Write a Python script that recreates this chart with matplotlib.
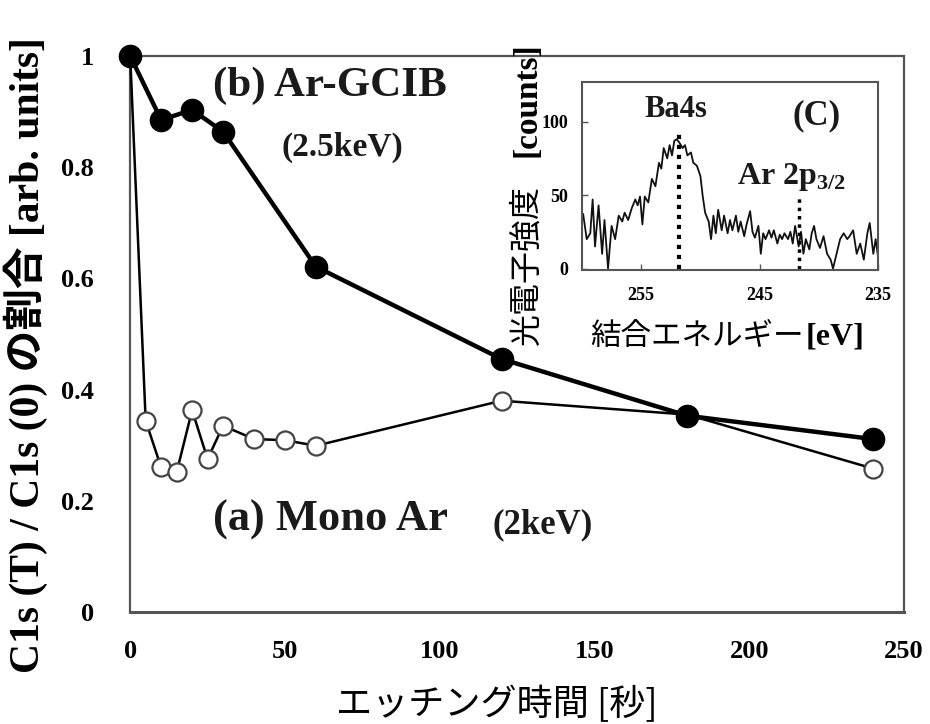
import matplotlib
matplotlib.use("Agg")
import matplotlib.pyplot as plt

plt.rcParams['mathtext.fontset'] = 'custom'
plt.rcParams['mathtext.rm'] = 'Liberation Serif'
plt.rcParams['mathtext.bf'] = 'Liberation Serif:bold'

SERIF = ['Liberation Serif', 'Noto Sans CJK JP']
JP = ['Noto Sans CJK JP', 'Liberation Serif']

# main data: etching time [s] vs C1s(T)/C1s(0)
t_gcib = [0, 10, 20, 30, 60, 120, 180, 240]
r_gcib = [1.0, 0.885, 0.903, 0.864, 0.621, 0.455, 0.353, 0.311]

t_mono = [0, 5, 10, 15, 20, 25, 30, 40, 50, 60, 120, 180, 240]
r_mono = [1.0, 0.344, 0.26, 0.251, 0.363, 0.275, 0.335, 0.311, 0.309, 0.299, 0.38, 0.355, 0.258]

x_ticks = [0, 50, 100, 150, 200, 250]
y_ticks = [0, 0.2, 0.4, 0.6, 0.8, 1.0]
y_tick_labels = ['0', '0.2', '0.4', '0.6', '0.8', '1']

# inset spectrum: binding energy [eV] vs counts
e_spec = [259.9, 259.6, 259.3, 259.1, 258.9, 258.6, 258.3, 258.1, 257.8, 257.5,
          257.2, 256.9, 256.6, 256.4, 256.1, 255.8, 255.5, 255.3, 255.1, 254.9,
          254.7, 254.4, 254.1, 253.8, 253.5, 253.3, 253.1, 252.8, 252.6, 252.4,
          252.2, 252.0, 251.8, 251.5, 251.3, 251.1, 250.8, 250.6, 250.3, 250.0,
          249.8, 249.6, 249.3, 249.1, 248.9, 248.7, 248.5, 248.2, 248.0, 247.7,
          247.5, 247.3, 247.0, 246.8, 246.6, 246.3, 246.1, 245.8, 245.6, 245.4,
          245.1, 244.9, 244.7, 244.5, 244.2, 244.0, 243.8, 243.5, 243.3, 243.1,
          242.9, 242.6, 242.4, 242.2, 242.0, 241.7, 241.5, 241.3, 241.1, 240.8,
          240.6, 240.4, 240.2, 239.9, 239.6, 239.3, 239.0, 238.8, 238.5, 238.2,
          237.9, 237.6, 237.4, 237.1, 236.8, 236.5, 236.2, 235.9, 235.7, 235.4,
          235.2, 235.0]
c_spec = [37, 20, 24, 47, 15, 43, 10, 33, 0, 29,
          20, 36, 32, 38, 33, 41, 47, 43, 49, 30,
          49, 45, 61, 56, 72, 68, 82, 75, 84, 77,
          87, 88, 86, 82, 84, 77, 79, 72, 70, 63,
          49, 38, 32, 20, 36, 24, 40, 26, 36, 24,
          33, 26, 36, 25, 32, 22, 30, 39, 25, 21,
          29, 10, 24, 20, 26, 21, 26, 17, 23, 20,
          24, 20, 25, 17, 29, 15, 25, 10, 20, 13,
          24, 29, 20, 14, 22, 10, 6, 0, 10, 20,
          24, 20, 22, 26, 10, 17, 6, 24, 31, 10,
          20, 8]

ba4s_e, ba4s_top = 251.8, 94
ar2p_e, ar2p_top = 241.7, 51

fig = plt.figure(figsize=(9.3, 7.24), dpi=100)
ax = fig.add_axes([0.140, 0.1547, 0.832, 0.768])

ax.plot(t_mono, r_mono, color='black', lw=1.8, marker='o', ms=13,
        mfc='white', mec='#444444', mew=1.6, clip_on=False, zorder=3)
ax.plot(t_gcib, r_gcib, color='black', lw=3.2, marker='o', ms=16,
        mfc='black', mec='black', clip_on=False, zorder=4)

ax.set_xlim(0, 250)
ax.set_ylim(0, 1)
ax.set_xticks(x_ticks)
ax.set_xticklabels([str(v) for v in x_ticks])
ax.set_yticks(y_ticks)
ax.set_yticklabels(y_tick_labels)
ax.tick_params(length=0, labelsize=19, pad=20)
ax.tick_params(axis='y', pad=26)
for lab in ax.get_xticklabels() + ax.get_yticklabels():
    lab.set_family(SERIF)
    lab.set_fontweight('bold')
for s in ax.spines.values():
    s.set_color('#555555')
    s.set_linewidth(1.6)
ax.spines['bottom'].set_linewidth(2.2)

ax.set_xlabel('エッチング時間 [秒]', family=JP, fontsize=26)
ax.xaxis.set_label_coords(0.474, -0.133)
ax.set_ylabel('C1s (T) / C1s (0) の割合 [arb. units]', family=SERIF,
              fontweight='bold', fontsize=30)
ax.yaxis.set_label_coords(-0.106, 0.462)

ax.text(26.8, 0.946, '(b) Ar-GCIB', family=SERIF, fontweight='bold',
        fontsize=31, ha='left', va='center', color='#1a1a1a')
ax.text(49.0, 0.836, '(2.5keV)', family=SERIF, fontweight='bold',
        fontsize=24, ha='left', va='center', color='#1a1a1a')
ax.text(26.8, 0.165, '(a) Mono Ar', family=SERIF, fontweight='bold',
        fontsize=32, ha='left', va='center', color='#1a1a1a')
ax.text(117.0, 0.157, '(2keV)', family=SERIF, fontweight='bold',
        fontsize=25, ha='left', va='center', color='#1a1a1a')

# inset
ins = fig.add_axes([0.6258, 0.6271, 0.3183, 0.2597])
ins.plot(e_spec, c_spec, color='#111111', lw=1.3)
ins.plot([ba4s_e, ba4s_e], [0, ba4s_top], color='black', lw=3, ls=(0, (1, 1.4)))
ins.plot([ar2p_e, ar2p_e], [0, ar2p_top], color='black', lw=2.5, ls=(0, (1, 1.4)))
ins.set_xlim(260, 235)
ins.set_ylim(-1, 127)
ins.set_xticks([255, 245, 235])
ins.set_yticks([0, 50, 100])
ins.tick_params(direction='in', length=4, labelsize=13, width=1, color='#555555')
ins.tick_params(axis='x', pad=12)
ins.tick_params(axis='y', pad=10)
for lab in ins.get_xticklabels() + ins.get_yticklabels():
    lab.set_family(SERIF)
    lab.set_fontweight('bold')
for s in ins.spines.values():
    s.set_color('#555555')
    s.set_linewidth(1.5)

ins.text(252.1, 108, 'Ba4s', family=SERIF, fontweight='bold', fontsize=22,
         ha='center', va='center', color='#1a1a1a')
ins.text(240.15, 104, '(C)', family=SERIF, fontweight='bold', fontsize=25,
         ha='center', va='center', color='#1a1a1a')
ins.text(246.9, 62, r'Ar 2p$_{\mathbf{3/2}}$', family=SERIF, fontweight='bold',
         fontsize=23, ha='left', va='center', color='#1a1a1a')

# inset axis labels: Japanese part in gothic, unit part in bold serif
ins.text(0.027, -0.356, '結合エネルギー', family=JP, fontsize=22,
         transform=ins.transAxes, ha='left', va='center')
ins.text(0.755, -0.356, '[eV]', family=SERIF, fontweight='bold', fontsize=23,
         transform=ins.transAxes, ha='left', va='center')
fig.text(0.5667, 0.5235, '光電子強度', family=JP, fontsize=23, rotation=90,
         ha='center', va='bottom')
fig.text(0.5667, 0.942, '[counts]', family=SERIF, fontweight='bold', fontsize=24,
         rotation=90, ha='center', va='top')

fig.savefig('out.png', dpi=100)
